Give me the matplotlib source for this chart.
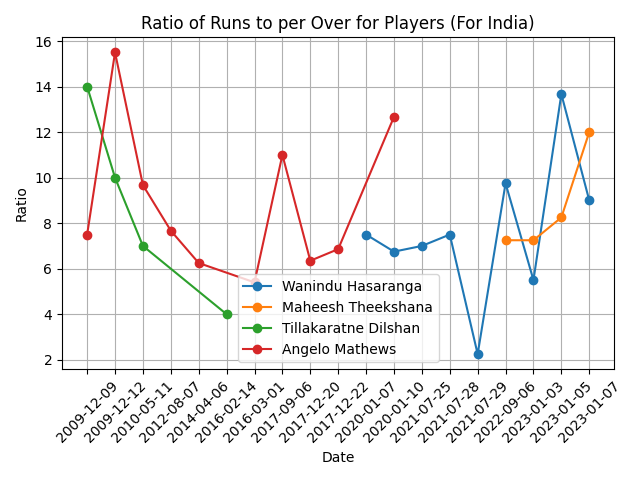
import matplotlib
matplotlib.use("Agg")
import matplotlib.pyplot as plt

dates = ["2009-12-09", "2009-12-12", "2010-05-11", "2012-08-07", "2014-04-06",
         "2016-02-14", "2016-03-01", "2017-09-06", "2017-12-20", "2017-12-22",
         "2020-01-07", "2020-01-10", "2021-07-25", "2021-07-28", "2021-07-29",
         "2022-09-06", "2023-01-03", "2023-01-05", "2023-01-07"]

wanindu_dates = ["2020-01-07", "2020-01-10", "2021-07-25", "2021-07-28", "2021-07-29",
                 "2022-09-06", "2023-01-03", "2023-01-05", "2023-01-07"]
wanindu_vals = [7.5, 6.75, 7.0, 7.5, 2.25, 9.75, 5.5, 13.67, 9.0]

maheesh_dates = ["2022-09-06", "2023-01-03", "2023-01-05", "2023-01-07"]
maheesh_vals = [7.25, 7.25, 8.25, 12.0]

dilshan_dates = ["2009-12-09", "2009-12-12", "2010-05-11", "2016-02-14"]
dilshan_vals = [14.0, 10.0, 7.0, 4.0]

angelo_dates = ["2009-12-09", "2009-12-12", "2010-05-11", "2012-08-07", "2014-04-06",
                "2016-03-01", "2017-09-06", "2017-12-20", "2017-12-22", "2020-01-10"]
angelo_vals = [7.5, 15.5, 9.67, 7.67, 6.25, 5.4, 11.0, 6.35, 6.86, 12.67]

series = [
    ("Wanindu Hasaranga", wanindu_dates, wanindu_vals),
    ("Maheesh Theekshana", maheesh_dates, maheesh_vals),
    ("Tillakaratne Dilshan", dilshan_dates, dilshan_vals),
    ("Angelo Mathews", angelo_dates, angelo_vals),
]

fig, ax = plt.subplots(figsize=(6.4, 4.8), dpi=100)
pos = {d: i for i, d in enumerate(dates)}
for name, ds, vs in series:
    ax.plot([pos[d] for d in ds], vs, marker="o", label=name)

ax.set_xticks(range(len(dates)))
ax.set_xticklabels(dates, rotation=45)
ax.set_title("Ratio of Runs to per Over for Players (For India)")
ax.set_xlabel("Date")
ax.set_ylabel("Ratio")
ax.grid(True)
ax.legend(loc="lower center")
fig.tight_layout()
fig.savefig("out.png")
